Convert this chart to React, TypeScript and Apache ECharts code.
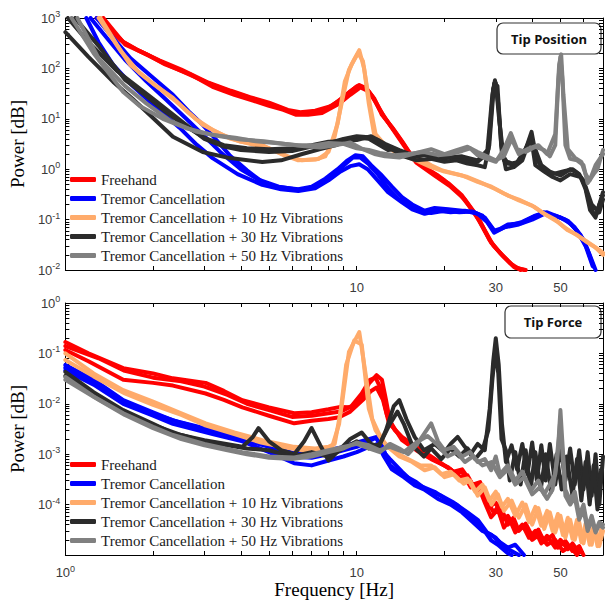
import React, { useEffect, useRef } from 'react';
import * as echarts from 'echarts';

type Pt = [number, number];

// ---------- categories / labels ----------
const seriesNames = [
  'Freehand',
  'Tremor Cancellation',
  'Tremor Cancellation + 10 Hz Vibrations',
  'Tremor Cancellation + 30 Hz Vibrations',
  'Tremor Cancellation + 50 Hz Vibrations',
];
const seriesColors = ['#ff0000', '#0000ff', '#ffab6b', '#2b2b2b', '#808080'];
const panelTitles = ['Tip Position', 'Tip Force'];

const xLabelsTop = [10, 30, 50];
const xLabelsBottom = [1, 10, 30, 50];
const xTicks = [1, 2, 3, 4, 5, 6, 7, 8, 9, 10, 20, 30, 40, 50, 60];
const yLabelsTop = [0.01, 0.1, 1, 10, 100, 1000];
const yLabelsBottom = [0.0001, 0.001, 0.01, 0.1, 1];
const yDecadesTop = [0.01, 0.1, 1, 10, 100];
const yDecadesBottom = [0.00001, 0.0001, 0.001, 0.01, 0.1];

// ---------- TOP PANEL: Tip Position ----------
const topFreehand1: Pt[] = [[1.3,1000],[1.45,560],[1.58,334],[1.8,220],[2.16,130],[2.6,80],[3.2,47],[3.8,33],[4.4,25],[5.0,20],[5.5,16.5],[6.1,13],[6.6,12.5],[7.6,14],[8.7,23],[9.5,35],[10.2,47],[10.8,40],[11.5,25],[12.2,12],[13.2,6.9],[14.3,3.6],[15.8,1.5],[18,0.9],[20.6,0.53],[23,0.3],[26.1,0.11],[28.9,0.035],[31.5,0.02],[34.6,0.0115],[37.6,0.01]];
const topFreehand2: Pt[] = [[1.35,1000],[1.6,300],[1.9,190],[2.2,120],[2.7,75],[3.2,43],[3.8,30],[4.4,23],[5.0,18],[5.6,15],[6.2,12],[6.8,12],[7.6,13],[8.7,20],[9.5,30],[10.3,42],[11,35],[11.6,22],[12.4,11],[13.4,6],[14.5,3.1],[16,1.35],[18.5,0.75],[21,0.45],[23.5,0.25],[26.5,0.09],[29.5,0.03],[32,0.018],[35,0.011],[38,0.01]];
const topFreehand3: Pt[] = [[1.28,1000],[1.55,360],[1.75,240],[2.1,145],[2.5,95],[3.1,52],[3.7,36],[4.3,27],[5,21],[5.8,15],[6.4,13.5],[7.2,14.5],[8.2,18],[9,27],[10,44],[10.6,43],[11.3,28],[12,15],[13,7.5],[14,4],[15.5,1.7],[17,1.1],[19,0.75],[20,0.6],[22.5,0.33],[25.5,0.13],[28.5,0.04],[31,0.022],[34,0.013],[36.5,0.01]];

const topCancel1: Pt[] = [[1.28,1000],[1.45,420],[1.67,160],[2.0,65],[2.34,30],[2.65,14],[2.96,7.6],[3.3,3.8],[3.66,1.9],[4.2,0.95],[4.74,0.56],[5.3,0.45],[6.3,0.4],[7.0,0.45],[7.8,0.65],[8.6,1.0],[9.3,1.5],[9.9,1.9],[10.5,1.8],[11.2,1.2],[12.2,0.75],[13.2,0.45],[14.3,0.28],[15.5,0.2],[17.1,0.15],[18.5,0.17],[20.6,0.16],[23,0.15],[25.3,0.14],[27,0.12],[29.6,0.06],[31,0.065],[33,0.08],[36.6,0.085],[40,0.11],[43.7,0.14],[47,0.12],[50,0.11],[54,0.085],[58.6,0.05],[62,0.025],[65,0.0115]];
const topCancel2: Pt[] = [[1.18,1000],[1.3,330],[1.46,117],[1.7,45],[2.0,19],[2.47,6.6],[2.8,3.2],[3.2,1.66],[3.9,0.8],[4.74,0.49],[5.5,0.4],[6.3,0.37],[7.2,0.42],[8.0,0.6],[8.8,0.9],[9.5,1.15],[10.2,1.25],[10.9,1.0],[11.8,0.6],[12.8,0.35],[14.3,0.22],[15.5,0.16],[17.1,0.13],[19,0.15],[21,0.14],[23.5,0.15],[26,0.13],[28,0.09],[29.6,0.055],[32,0.07],[36,0.08],[40,0.1],[44,0.13],[48,0.12],[52,0.1],[56,0.07],[60,0.04],[63,0.02],[66,0.01]];
const topCancel3: Pt[] = [[1.22,1000],[1.4,380],[1.6,150],[1.9,55],[2.2,25],[2.6,10],[3.0,4.5],[3.4,2.2],[4.0,1.0],[4.6,0.62],[5.4,0.45],[6.3,0.39],[7.1,0.43],[8.0,0.62],[8.9,1.1],[9.7,1.7],[10.3,1.7],[11.0,1.25],[11.8,0.8],[12.8,0.42],[14,0.25],[15.5,0.18],[16.5,0.15],[18,0.135],[20,0.15],[22.5,0.14],[25,0.145],[27.5,0.11],[29.8,0.058],[33,0.075],[37,0.09],[41,0.12],[45,0.14],[49,0.115],[53,0.095],[57,0.06],[61,0.03],[64.5,0.012]];

const topVib10a: Pt[] = [[1.32,1000],[1.5,300],[1.67,117],[2.0,50],[2.34,26],[2.65,13],[2.96,7.6],[3.46,4.8],[4.0,3.5],[4.74,3.0],[5.5,2.0],[6.3,1.5],[7.2,1.55],[7.8,1.8],[8.4,4.5],[9.0,30],[9.4,93],[9.8,150],[10.2,230],[10.6,100],[11.0,20],[11.5,4.5],[12,3.5],[13.5,2.2],[15,1.9],[16.5,1.6],[18,1.2],[19.5,0.96],[22,0.8],[24,0.7],[26.7,0.54],[30,0.4],[33,0.3],[36,0.25],[40.6,0.18],[45,0.12],[49,0.09],[52.8,0.062],[57,0.05],[62,0.035],[68,0.025],[70,0.022]];
const topVib10b: Pt[] = [[1.3,1000],[1.55,220],[1.8,80],[2.1,40],[2.4,22],[2.8,10],[3.2,6],[3.7,4],[4.3,3.2],[5.0,2.6],[5.8,1.8],[6.5,1.5],[7.4,1.6],[8.0,2.2],[8.6,8],[9.1,55],[9.6,120],[10.1,200],[10.5,140],[11,25],[11.6,5],[12.5,3],[14,2],[16,1.5],[18,1.1],[20,0.9],[23,0.75],[26,0.56],[29,0.45],[32,0.33],[36,0.24],[40,0.19],[44,0.13],[48,0.1],[52,0.068],[56,0.052],[61,0.038],[66,0.028],[70,0.02]];

const topVib30a: Pt[] = [[1,525],[1.2,170],[1.46,54],[1.7,25],[1.95,11.9],[2.34,4.4],[2.96,2.2],[3.66,1.66],[4.74,1.39],[5.5,1.5],[6.5,2.0],[7.5,2.5],[8.5,3.0],[9.4,3.8],[10.2,4.2],[11,4.0],[12,3.0],[12.8,2.4],[13.5,2.5],[14.5,1.8],[16,1.5],[18,1.6],[20,1.4],[22,1.5],[24,1.3],[26,1.2],[27.5,1.1],[28.5,3],[29.6,50],[30.4,45],[31.3,3],[32.5,1.0],[34.6,1.1],[37,1.5],[39.6,4.5],[41,1.2],[44,0.9],[47,0.7],[50,0.6],[54,0.8],[58.6,0.7],[61,0.4],[63.2,0.155],[66,0.11],[68,0.2],[70,0.3]];
const topVib30b: Pt[] = [[1.02,1000],[1.2,330],[1.5,90],[1.75,45],[2.0,25],[2.5,9],[3.0,4],[3.5,2.8],[4.0,2.4],[5.0,2.2],[6.0,2.3],[7.0,2.8],[8.0,3.3],[9.0,4.0],[10,4.5],[11,4.3],[11.8,3.8],[12.8,2.8],[14,2.0],[15.5,1.7],[17,1.9],[19,1.6],[21,1.7],[23.5,1.5],[26,1.4],[28,2],[29.2,30],[29.8,58],[30.6,20],[31.5,2],[33,1.3],[35,1.2],[38,2.5],[39.8,5.5],[41.5,1.5],[44,1.0],[47,0.8],[51,0.9],[55,1.0],[58,0.8],[61,0.45],[64,0.2],[67,0.15],[70,0.35]];
const topVib30c: Pt[] = [[1.08,1000],[1.3,280],[1.6,60],[1.9,28],[2.2,14],[2.6,7],[3.0,4.2],[3.5,3],[4.2,2.6],[5.0,2.5],[6,2.6],[7,3],[8,3.5],[9,3.6],[10,3.8],[11.2,4.5],[12.5,3.2],[14,2.4],[16,1.8],[18,2.0],[20,1.7],[23,1.8],[26,1.5],[28.3,2.5],[29.4,40],[30,52],[30.8,10],[32,1.5],[34,1.3],[36,1.4],[39,3.5],[40.5,3],[43,1.2],[46,0.9],[50,0.75],[54,1.0],[57,0.85],[60,0.6],[62.5,0.25],[65,0.13],[68,0.14],[70,0.25]];

const topVib50a: Pt[] = [[1.05,1000],[1.25,200],[1.58,34],[1.8,18],[2.16,10],[2.6,6.5],[3.2,4.8],[3.83,4.2],[4.5,3.6],[5.25,3.3],[6.3,3.0],[7.2,3.0],[8,3.3],[9,3.2],[10,2.6],[11,2.4],[12,2.1],[13.5,1.9],[15,2.0],[17,2.2],[19,1.9],[21,2.0],[23,2.3],[24.5,2.6],[26,1.9],[28,1.6],[30,1.4],[32,2.5],[33.8,5.2],[35.5,2.5],[38,2.2],[41,2.8],[44,2.4],[46,1.8],[48,3],[49.2,60],[50,170],[50.8,60],[52,3],[54,1.6],[57,1.5],[60,1.2],[62,0.53],[65,0.8],[67,1.0],[70,2.4]];
const topVib50b: Pt[] = [[1.1,1000],[1.3,160],[1.6,45],[1.9,20],[2.3,9],[2.8,5.6],[3.4,4.5],[4.0,3.9],[4.8,3.6],[5.6,3.2],[6.5,2.9],[7.5,2.7],[8.5,3.0],[9.5,3.4],[10.5,2.5],[11.5,2.0],[12.5,1.8],[14,1.7],[16,2.1],[18,2.5],[20,2.0],[22,2.4],[24,2.8],[26,2.2],[28,1.8],[30,1.5],[32,1.8],[34,4],[36,2],[39,2.6],[42,3],[45,2],[48,5],[49.5,120],[50.3,190],[51.2,30],[53,2.5],[56,1.7],[59,1.4],[61,0.8],[63,0.6],[66,1.2],[70,2.0]];

// ---------- BOTTOM PANEL: Tip Force ----------
const botFreehand1: Pt[] = [[1,0.168],[1.2,0.1],[1.58,0.051],[2.0,0.04],[2.34,0.032],[3.03,0.026],[3.5,0.018],[4.05,0.0118],[5.0,0.0085],[6.1,0.0065],[7.0,0.0068],[8.0,0.0078],[8.7,0.0086],[9.5,0.0085],[10.3,0.012],[11,0.025],[11.7,0.037],[12.2,0.03],[12.6,0.012],[13,0.0045],[14.3,0.0019],[16,0.0012],[18,0.0008],[20.6,0.00055],[22,0.0004],[23,0.00045],[24.6,0.00022],[26,0.00025],[27.5,0.00011],[28.9,0.000056],[30.5,0.00008],[32,0.000035],[33.5,0.00005],[35,0.000028],[37,0.00004],[39,0.000022],[41,0.00003],[43,0.000017],[45,0.000024],[48,0.000014],[50,0.00002],[53,0.000013],[55,0.000017],[58,0.000011]];
const botFreehand2: Pt[] = [[1,0.117],[1.2,0.07],[1.58,0.03],[2.0,0.026],[2.34,0.023],[3.03,0.016],[3.5,0.012],[4.05,0.0085],[5.0,0.0058],[6.1,0.0041],[7.0,0.0046],[8.0,0.005],[8.7,0.0054],[9.5,0.007],[10.5,0.012],[11.2,0.018],[11.7,0.021],[12.3,0.012],[12.9,0.0041],[14.3,0.0022],[16,0.0014],[18,0.0009],[20,0.0006],[21.5,0.00045],[23,0.0005],[25,0.00025],[26.5,0.00028],[28,0.00012],[29.5,0.00007],[31,0.0001],[33,0.00004],[34.5,0.000055],[36,0.00003],[38,0.000042],[40,0.000024],[42,0.000032],[44,0.000018],[47,0.000025],[49,0.000014],[52,0.000019],[55,0.000012],[58,0.000015],[60,0.00001]];
const botFreehand3: Pt[] = [[1,0.14],[1.3,0.08],[1.6,0.045],[2.0,0.033],[2.5,0.028],[3.0,0.022],[3.6,0.015],[4.2,0.01],[5.0,0.0075],[6.0,0.0055],[7.0,0.0058],[8.0,0.0065],[8.8,0.007],[9.6,0.009],[10.4,0.016],[11.1,0.03],[11.6,0.033],[12.1,0.02],[12.7,0.006],[13.5,0.003],[15,0.0016],[17,0.001],[19,0.0007],[21,0.0005],[22.5,0.00035],[24,0.00038],[25.5,0.0002],[27,0.00022],[28.5,0.00009],[30,0.00011],[31.5,0.00005],[33,0.00006],[35,0.000033],[37.5,0.000036],[40,0.00002],[42.5,0.000026],[45,0.000016],[48,0.00002],[51,0.000012],[54,0.000015],[57,0.00001]];

const botCancel1: Pt[] = [[1,0.059],[1.25,0.03],[1.58,0.0118],[2.0,0.0068],[2.34,0.0047],[3.2,0.003],[4.05,0.0022],[5.0,0.0015],[6.1,0.00104],[7.0,0.0011],[8.0,0.0012],[9.0,0.0014],[9.8,0.00165],[10.7,0.0019],[11.7,0.0022],[12.2,0.0012],[13,0.0008],[14.3,0.00045],[15.8,0.00026],[17,0.00022],[18.5,0.00018],[20.6,0.00012],[22,0.0001],[24.6,0.000056],[26.5,0.00004],[28.9,0.0000195],[30.5,0.000016],[32.9,0.000011],[34,0.00001]];
const botCancel2: Pt[] = [[1,0.046],[1.25,0.024],[1.58,0.01],[2.0,0.0058],[2.34,0.004],[3.2,0.0025],[4.05,0.0018],[5.0,0.0011],[6.1,0.00066],[7.0,0.0006],[8.0,0.00075],[9.0,0.0009],[10,0.0011],[11,0.0014],[11.8,0.0016],[12.4,0.0009],[13.2,0.0005],[14.5,0.00035],[15.8,0.00024],[17,0.0002],[19,0.00013],[21,0.0001],[23,0.00007],[25,0.000045],[27,0.00003],[29,0.000025],[31,0.000018],[33,0.000014],[35,0.000016],[37.5,0.00001]];
const botCancel3: Pt[] = [[1,0.052],[1.3,0.024],[1.6,0.011],[2.0,0.0064],[2.5,0.0042],[3.2,0.0028],[4.0,0.002],[5.0,0.0014],[6.0,0.0009],[7.0,0.00085],[8.0,0.001],[9.0,0.0012],[10,0.0014],[11,0.0018],[11.6,0.0021],[12.2,0.0015],[13,0.0006],[14.3,0.0004],[16,0.00028],[17.5,0.00019],[19.5,0.00015],[21.5,0.00011],[24,0.00007],[26,0.00005],[28,0.000028],[30,0.000022],[32,0.000014],[34,0.000012],[36,0.00001]];

const botVib10a: Pt[] = [[1,0.1],[1.25,0.04],[1.58,0.0186],[2.0,0.011],[2.5,0.0065],[3.03,0.0041],[3.8,0.0027],[4.74,0.0019],[6.1,0.0014],[7.2,0.0013],[8.0,0.0014],[8.4,0.0016],[8.9,0.01],[9.4,0.107],[10.2,0.265],[10.8,0.03],[11.3,0.005],[11.9,0.0026],[12.6,0.0015],[14,0.0009],[15.5,0.0007],[17.1,0.00048],[18.5,0.00055],[20,0.00035],[21.5,0.0004],[23.3,0.00026],[24.5,0.0003],[26,0.00015],[27.5,0.00022],[29,0.0001],[30.5,0.00016],[32,0.000075],[34,0.00012],[36,0.000055],[38,0.0001],[40,0.00004],[42,0.000085],[44,0.000033],[46,0.00007],[48,0.000028],[50,0.00006],[52,0.000022],[54,0.00005],[56,0.00002],[58,0.000045],[60,0.000017],[62,0.00004],[64,0.000016],[66,0.000035],[68,0.000015],[70,0.00003]];
const botVib10b: Pt[] = [[1,0.074],[1.25,0.035],[1.6,0.016],[2.0,0.0095],[2.5,0.006],[3.0,0.0038],[3.8,0.0025],[4.7,0.0017],[5.5,0.0014],[6.5,0.0012],[7.5,0.0012],[8.2,0.0013],[8.7,0.004],[9.2,0.06],[9.8,0.18],[10.4,0.15],[11,0.008],[11.6,0.003],[12.3,0.0018],[13.5,0.0011],[15,0.0008],[16.5,0.0006],[18,0.0006],[19.5,0.0004],[21,0.00045],[22.5,0.0003],[24,0.00033],[25.5,0.00018],[27,0.00025],[28.5,0.00012],[30,0.00018],[31.5,0.00009],[33,0.00013],[35,0.00006],[37,0.00011],[39,0.000045],[41,0.00009],[43,0.000038],[45,0.000075],[47,0.00003],[49,0.000065],[51,0.000025],[53,0.000055],[55,0.000021],[57,0.00005],[59,0.000018],[61,0.000042],[63,0.000016],[65,0.000038],[67,0.000015],[69,0.000032]];

const botVib30a: Pt[] = [[1,0.043],[1.25,0.017],[1.58,0.0075],[2.0,0.004],[2.34,0.0026],[3.0,0.0019],[4.05,0.0014],[4.4,0.0022],[4.6,0.0033],[5.0,0.0018],[5.5,0.0012],[6.1,0.001],[6.6,0.0018],[7.0,0.0033],[7.5,0.0015],[8.0,0.00075],[8.7,0.0012],[9.5,0.002],[10.4,0.0027],[11.2,0.0016],[11.9,0.0014],[12.6,0.003],[13.4,0.009],[14.0,0.0118],[14.8,0.005],[15.8,0.0022],[17,0.0012],[18.5,0.0016],[20,0.0011],[21,0.0016],[22.2,0.0022],[23.5,0.0014],[24.6,0.001],[26,0.0016],[27.5,0.0012],[28.6,0.008],[29.4,0.07],[30,0.2],[30.7,0.06],[31.5,0.004],[32.5,0.0007],[34,0.0015],[35.5,0.0005],[37,0.0016],[38.5,0.0004],[40,0.0017],[41.5,0.0003],[43,0.0015],[44.5,0.0003],[46,0.0016],[48,0.00025],[50,0.0014],[52,0.0003],[54,0.0013],[56,0.00025],[58,0.0012],[60,0.0002],[62,0.0011],[64,0.00015],[66,0.001],[68,0.0001],[70,0.0009]];
const botVib30b: Pt[] = [[1,0.036],[1.25,0.015],[1.6,0.0065],[2.0,0.0038],[2.5,0.0024],[3.0,0.0018],[3.6,0.0015],[4.2,0.0013],[5.0,0.0012],[6.0,0.0009],[7.0,0.0011],[8.0,0.0009],[9.0,0.0013],[10,0.0018],[11,0.0013],[12,0.0016],[13,0.004],[13.8,0.007],[14.5,0.004],[15.5,0.0015],[17,0.0009],[18,0.0013],[19.5,0.0008],[21,0.0013],[22.5,0.0009],[24,0.0013],[25.5,0.0008],[27,0.0012],[28.3,0.003],[29.2,0.03],[29.9,0.12],[30.6,0.04],[31.4,0.002],[32.5,0.0012],[33.5,0.0003],[35,0.0011],[36.5,0.00025],[38,0.0012],[39.5,0.0002],[41,0.0011],[42.8,0.0002],[44.5,0.001],[46.5,0.00018],[48.5,0.001],[50.5,0.0002],[52.5,0.0009],[55,0.00015],[57,0.0008],[59,0.00012],[61,0.0007],[63,0.0001],[65,0.0006],[67,0.00008],[69,0.0005]];

const botVib50a: Pt[] = [[1,0.034],[1.25,0.014],[1.58,0.0065],[2.0,0.0035],[2.34,0.0024],[3.0,0.0016],[4.05,0.0011],[5.0,0.0009],[6.1,0.00086],[7.0,0.001],[8.0,0.0012],[9.0,0.0014],[10,0.0016],[11,0.0013],[12,0.0011],[13,0.0016],[14,0.0013],[15,0.001],[16,0.0015],[17,0.0025],[18,0.0041],[19,0.0018],[20,0.0012],[21.5,0.0014],[23,0.0009],[24.5,0.0011],[26,0.0007],[27.5,0.0008],[28.9,0.00048],[30,0.0009],[31,0.0004],[33,0.0006],[35,0.0003],[37,0.00045],[39.6,0.00019],[42,0.0003],[44,0.00016],[46,0.00025],[48,0.0004],[49.3,0.002],[50,0.0075],[50.7,0.002],[52,0.0002],[54,0.00012],[56,0.00018],[58,0.00006],[60,0.0001],[62,0.000035],[64,0.00006],[66,0.00003],[68,0.000045],[70,0.00004]];
const botVib50b: Pt[] = [[1,0.03],[1.3,0.012],[1.6,0.006],[2.0,0.0033],[2.5,0.002],[3.0,0.0015],[3.6,0.0012],[4.2,0.001],[5.0,0.00085],[6.0,0.0008],[7.0,0.0009],[8.0,0.0011],[9.0,0.0013],[10,0.0017],[11,0.0015],[12,0.0012],[13,0.0014],[14.5,0.0011],[16,0.0017],[17.5,0.0023],[19,0.0015],[20.5,0.0009],[22,0.0011],[23.5,0.0007],[25,0.0009],[27,0.0006],[29,0.0007],[31,0.00035],[33,0.0005],[35,0.00025],[37.5,0.00035],[40,0.00016],[42.5,0.00022],[45,0.00013],[47,0.0002],[48.8,0.0008],[49.8,0.004],[50.6,0.0015],[52,0.00015],[54,0.0001],[56,0.00014],[58,0.00005],[60,0.00008],[62,0.00003],[64,0.00005],[66,0.000028],[68,0.00004],[70,0.000035]];

const topPanel: Pt[][][] = [
  [topFreehand1, topFreehand2, topFreehand3],
  [topCancel1, topCancel2, topCancel3],
  [topVib10a, topVib10b],
  [topVib30a, topVib30b, topVib30c],
  [topVib50a, topVib50b],
];
const bottomPanel: Pt[][][] = [
  [botFreehand1, botFreehand2, botFreehand3],
  [botCancel1, botCancel2, botCancel3],
  [botVib10a, botVib10b],
  [botVib30a, botVib30b],
  [botVib50a, botVib50b],
];

// ---------- helpers ----------
const minorTicks = (decades: number[], last: number) => {
  const out: number[] = [];
  decades.forEach((d) => {
    for (let k = 1; k <= 9; k++) out.push(+(d * k).toPrecision(6));
  });
  out.push(last);
  return out;
};

const richLabel = {
  b: { fontSize: 13, lineHeight: 17, fontFamily: 'Liberation Sans', color: '#3a3a3a' },
  s: { fontSize: 9, lineHeight: 9, verticalAlign: 'top', fontFamily: 'Liberation Sans', color: '#3a3a3a' },
};
const powLabel = (v: number) => `{b|10}{s|${Math.round(Math.log10(v))}}`;
const xLabel = (v: number) => (Math.abs(v - 1) < 1e-6 ? powLabel(1) : `{b|${Math.round(v)}}`);

const GRID_LEFT = 62;
const GRID_RIGHT = 10;
const PANEL_H = 252;
const gridTops = [18, 303];

function makeAxes() {
  const axisLine = { show: true, lineStyle: { color: '#000', width: 1 } };
  const tickStyle = { color: '#000', width: 1 };
  const xAxis: any[] = [];
  const yAxis: any[] = [];
  [0, 1].forEach((g) => {
    const xLabels = g === 0 ? xLabelsTop : xLabelsBottom;
    const yMin = g === 0 ? 0.01 : 0.00001;
    const yMax = g === 0 ? 1000 : 1;
    const yTicks = g === 0 ? minorTicks(yDecadesTop, 1000) : minorTicks(yDecadesBottom, 1);
    const yLabels = g === 0 ? yLabelsTop : yLabelsBottom;
    xAxis.push({
      type: 'log', logBase: 10, gridIndex: g, min: 1, max: 70, position: 'bottom',
      axisLine,
      axisTick: { show: true, inside: true, length: 4, customValues: xTicks, lineStyle: tickStyle },
      axisLabel: { show: true, customValues: xLabels, formatter: xLabel, rich: richLabel, margin: 9 },
      splitLine: { show: false }, minorTick: { show: false },
      ...(g === 1
        ? {
            name: 'Frequency [Hz]', nameLocation: 'middle', nameGap: 25,
            nameTextStyle: { fontFamily: 'Liberation Serif', fontSize: 19, color: '#000' },
          }
        : {}),
    });
    xAxis.push({
      type: 'log', logBase: 10, gridIndex: g, min: 1, max: 70, position: 'top',
      axisLine,
      axisTick: { show: true, inside: true, length: 4, customValues: xTicks, lineStyle: tickStyle },
      axisLabel: { show: false }, splitLine: { show: false },
    });
    yAxis.push({
      type: 'log', logBase: 10, gridIndex: g, min: yMin, max: yMax, position: 'left',
      axisLine,
      axisTick: { show: true, inside: true, length: 4, customValues: yTicks, lineStyle: tickStyle },
      axisLabel: { show: true, customValues: yLabels, formatter: powLabel, rich: richLabel, margin: 5 },
      splitLine: { show: false },
      name: 'Power [dB]', nameLocation: 'middle', nameGap: 36,
      nameTextStyle: { fontFamily: 'Liberation Serif', fontSize: 19, color: '#000' },
    });
    yAxis.push({
      type: 'log', logBase: 10, gridIndex: g, min: yMin, max: yMax, position: 'right',
      axisLine,
      axisTick: { show: true, inside: true, length: 4, customValues: yTicks, lineStyle: tickStyle },
      axisLabel: { show: false }, splitLine: { show: false },
    });
  });
  return { xAxis, yAxis };
}

function makeSeries() {
  const series: any[] = [];
  [topPanel, bottomPanel].forEach((panel, g) => {
    panel.forEach((trials, ci) => {
      trials.forEach((data) => {
        series.push({
          type: 'line', name: seriesNames[ci], xAxisIndex: g * 2, yAxisIndex: g * 2,
          data, showSymbol: false, symbol: 'none', clip: true, silent: true,
          lineStyle: { color: seriesColors[ci], width: 4, join: 'round', cap: 'round' },
          itemStyle: { color: seriesColors[ci] },
        });
      });
    });
  });
  return series;
}

function makeLegend(top: number) {
  return {
    show: true, orient: 'vertical', left: 70, top, padding: 0, itemGap: 4,
    itemWidth: 26, itemHeight: 5, icon: 'roundRect', selectedMode: false,
    data: seriesNames,
    textStyle: { fontFamily: 'Liberation Serif', fontSize: 15, color: '#1a1a1a', lineHeight: 15 },
  };
}

function makeTitleBox(x: number, y: number, w: number, h: number, text: string) {
  return {
    type: 'group', z: 100,
    children: [
      { type: 'rect', shape: { x, y, width: w, height: h, r: 6 }, style: { fill: '#fff', stroke: '#333', lineWidth: 1.2 } },
      {
        type: 'text', x: x + w / 2, y: y + h / 2,
        style: { text, font: 'bold 13px "Open Sans"', fill: '#111', textAlign: 'center', textVerticalAlign: 'middle' },
      },
    ],
  };
}

export default function App() {
  const ref = useRef<HTMLDivElement>(null);
  useEffect(() => {
    if (!ref.current) return;
    const chart = echarts.init(ref.current, null, { renderer: 'svg' });
    const { xAxis, yAxis } = makeAxes();
    chart.setOption({
      animation: false,
      backgroundColor: '#fff',
      grid: gridTops.map((t) => ({ left: GRID_LEFT, right: GRID_RIGHT, top: t, height: PANEL_H, containLabel: false })),
      xAxis,
      yAxis,
      legend: [makeLegend(172), makeLegend(457)],
      series: makeSeries(),
      graphic: [
        makeTitleBox(497, 23, 104, 31, panelTitles[0]),
        makeTitleBox(505, 306, 96, 32, panelTitles[1]),
      ],
    });
    return () => chart.dispose();
  }, []);
  return <div ref={ref} style={{ position: 'fixed', left: 0, top: 0, width: 613, height: 605 }} />;
}
